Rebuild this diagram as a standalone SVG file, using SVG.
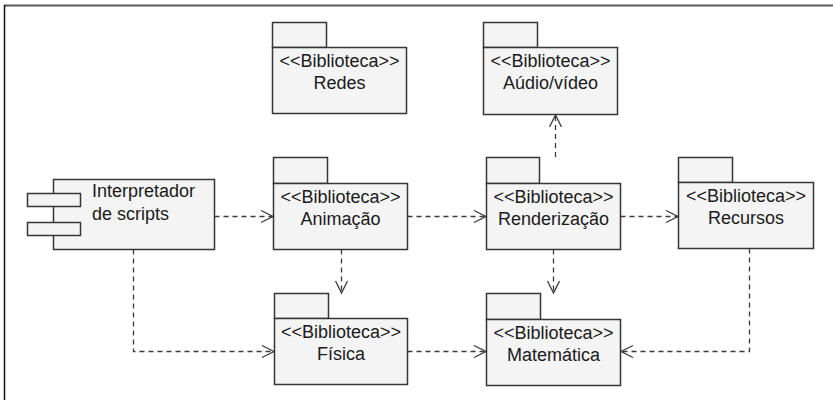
<svg xmlns="http://www.w3.org/2000/svg" width="833" height="400" viewBox="0 0 833 400">
<style>
.box{fill:#f4f4f4;stroke:#363636;stroke-width:1.5}
.t{font-family:"Liberation Sans",Arial,sans-serif;font-size:18px;fill:#1a1a1a}
.c{text-anchor:middle}
.dep{fill:none;stroke:#3a3a3a;stroke-width:1.3;stroke-dasharray:5,4}
.head{fill:none;stroke:#3a3a3a;stroke-width:1.3}
</style>
<rect x="0" y="0" width="833" height="400" fill="#ffffff"/>
<line x1="4" y1="5.5" x2="833" y2="5.5" stroke="#5a5a5a" stroke-width="2"/>
<line x1="4.5" y1="5" x2="4.5" y2="400" stroke="#111" stroke-width="1.5"/>

<g id="interpretador">
<rect class="box" x="53.5" y="179.5" width="161" height="70"/>
<rect class="box" x="27.5" y="193.5" width="53" height="13"/>
<rect class="box" x="27.5" y="222.5" width="53" height="13"/>
<text class="t" x="92" y="197">Interpretador</text>
<text class="t" x="92" y="220">de scripts</text>
</g>

<g id="redes">
<rect class="box" x="272.5" y="22.5" width="54" height="25"/>
<rect class="box" x="272.5" y="47.5" width="134" height="66"/>
<text class="t c" x="339.5" y="67">&lt;&lt;Biblioteca&gt;&gt;</text>
<text class="t c" x="339.5" y="89">Redes</text>
</g>

<g id="audio">
<rect class="box" x="483.5" y="22.5" width="54" height="25"/>
<rect class="box" x="483.5" y="47.5" width="134" height="67"/>
<text class="t c" x="550.5" y="67">&lt;&lt;Biblioteca&gt;&gt;</text>
<text class="t c" x="550.5" y="89">Aúdio/vídeo</text>
</g>

<g id="animacao">
<rect class="box" x="273.5" y="157.5" width="54" height="26"/>
<rect class="box" x="273.5" y="183.5" width="134" height="66"/>
<text class="t c" x="340.5" y="203">&lt;&lt;Biblioteca&gt;&gt;</text>
<text class="t c" x="340.5" y="225">Animação</text>
</g>

<g id="renderizacao">
<rect class="box" x="486.5" y="157.5" width="53" height="26"/>
<rect class="box" x="486.5" y="183.5" width="134" height="66"/>
<text class="t c" x="553.5" y="203">&lt;&lt;Biblioteca&gt;&gt;</text>
<text class="t c" x="553.5" y="225">Renderização</text>
</g>

<g id="recursos">
<rect class="box" x="678.5" y="157.5" width="54" height="25"/>
<rect class="box" x="678.5" y="182.5" width="135" height="66"/>
<text class="t c" x="746" y="202">&lt;&lt;Biblioteca&gt;&gt;</text>
<text class="t c" x="746" y="224">Recursos</text>
</g>

<g id="fisica">
<rect class="box" x="274.5" y="293.5" width="54" height="25"/>
<rect class="box" x="274.5" y="318.5" width="133" height="66"/>
<text class="t c" x="341" y="338">&lt;&lt;Biblioteca&gt;&gt;</text>
<text class="t c" x="341" y="360">Física</text>
</g>

<g id="matematica">
<rect class="box" x="486.5" y="293.5" width="54" height="26"/>
<rect class="box" x="486.5" y="319.5" width="134" height="66"/>
<text class="t c" x="553.5" y="339">&lt;&lt;Biblioteca&gt;&gt;</text>
<text class="t c" x="553.5" y="361">Matemática</text>
</g>

<g id="connectors">
<path class="dep" d="M214.5,216.5 H273"/>
<path class="head" d="M261,210.5 L273,216.5 L261,222.5"/>
<path class="dep" d="M407.5,216.5 H486"/>
<path class="head" d="M474,210.5 L486,216.5 L474,222.5"/>
<path class="dep" d="M620.5,216.5 H678"/>
<path class="head" d="M666,210.5 L678,216.5 L666,222.5"/>
<path class="dep" d="M555.5,157 V115"/>
<path class="head" d="M549.5,127 L555.5,115 L561.5,127"/>
<path class="dep" d="M341.5,249.5 V293"/>
<path class="head" d="M335.5,281 L341.5,293 L347.5,281"/>
<path class="dep" d="M553.5,249.5 V293"/>
<path class="head" d="M547.5,281 L553.5,293 L559.5,281"/>
<path class="dep" d="M133.5,249.5 V351.5 H274"/>
<path class="head" d="M262,345.5 L274,351.5 L262,357.5"/>
<path class="dep" d="M407.5,351.5 H486"/>
<path class="head" d="M474,345.5 L486,351.5 L474,357.5"/>
<path class="dep" d="M749.5,248.5 V351.5 H621"/>
<path class="head" d="M633,345.5 L621,351.5 L633,357.5"/>
</g>
</svg>
